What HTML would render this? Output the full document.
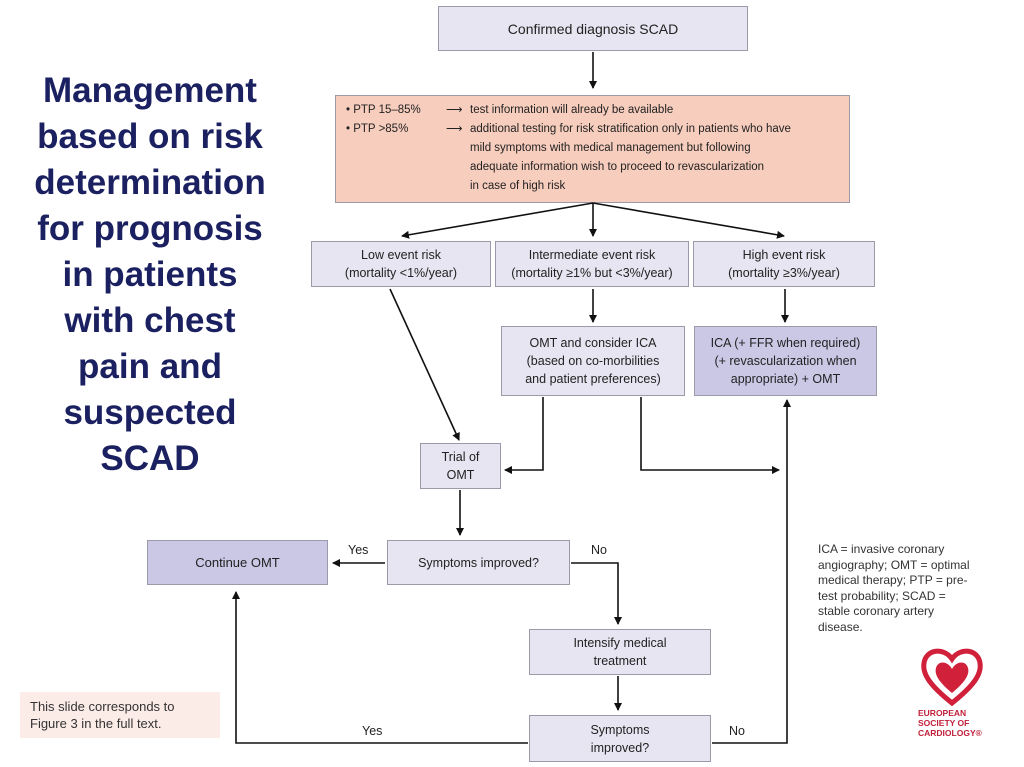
<!DOCTYPE html>
<html><head><meta charset="utf-8"><style>
body{margin:0;width:1024px;height:767px;background:#fff;position:relative;overflow:hidden;font-family:"Liberation Sans",sans-serif}
.b{position:absolute;box-sizing:border-box;border:1.5px solid #9a9aa8;background:#e6e5f1;display:flex;align-items:center;justify-content:center;text-align:center;font-size:12.5px;color:#222;line-height:18px}
.d{background:#cbc8e6}
.t{position:absolute;font-size:12.5px;color:#222}
</style></head><body>
<div style="position:absolute;left:0px;top:68px;width:300px;text-align:center;font-weight:bold;font-size:35px;line-height:46px;color:#1b2060">Management<br>based on risk<br>determination<br>for prognosis<br>in patients<br>with chest<br>pain and<br>suspected<br>SCAD</div>

<div class="b" style="left:438px;top:6px;width:310px;height:45px;font-size:14px">Confirmed diagnosis SCAD</div>
<div class="b" style="left:335px;top:95px;width:515px;height:108px;background:#f7cdbd;display:block;text-align:left;padding:5px 0 0 10px;font-size:11.5px;line-height:19px">
<div>• PTP 15–85% <span style="position:absolute;left:110px">⟶</span><span style="position:absolute;left:134px">test information will already be available</span></div>
<div>• PTP &gt;85% <span style="position:absolute;left:110px">⟶</span><span style="position:absolute;left:134px;white-space:nowrap">additional testing for risk stratification only in patients who have<br>mild symptoms with medical management but following<br>adequate information wish to proceed to revascularization<br>in case of high risk</span></div>
</div>
<div class="b" style="left:311px;top:241px;width:180px;height:46px">Low event risk<br>(mortality &lt;1%/year)</div>
<div class="b" style="left:495px;top:241px;width:194px;height:46px">Intermediate event risk<br>(mortality ≥1% but &lt;3%/year)</div>
<div class="b" style="left:693px;top:241px;width:182px;height:46px">High event risk<br>(mortality ≥3%/year)</div>
<div class="b" style="left:501px;top:326px;width:184px;height:70px">OMT and consider ICA<br>(based on co-morbilities<br>and patient preferences)</div>
<div class="b d" style="left:694px;top:326px;width:183px;height:70px">ICA (+ FFR when required)<br>(+ revascularization when<br>appropriate) + OMT</div>
<div class="b" style="left:420px;top:443px;width:81px;height:46px">Trial of<br>OMT</div>
<div class="b d" style="left:147px;top:540px;width:181px;height:45px;font-size:13px">Continue OMT</div>
<div class="b" style="left:387px;top:540px;width:183px;height:45px">Symptoms improved?</div>
<div class="b" style="left:529px;top:629px;width:182px;height:46px">Intensify medical<br>treatment</div>
<div class="b" style="left:529px;top:715px;width:182px;height:47px">Symptoms<br>improved?</div>
<div style="position:absolute;left:20px;top:692px;width:200px;height:46px;background:#fbece7;font-size:13px;color:#333;padding:6px 10px;box-sizing:border-box;line-height:17px">This slide corresponds to Figure 3 in the full text.</div>
<div style="position:absolute;left:818px;top:542px;width:160px;font-size:12px;line-height:15.5px;color:#333">ICA = invasive coronary angiography; OMT = optimal medical therapy; PTP = pre-test probability; SCAD = stable coronary artery disease.</div>
<div class="t" style="left:348px;top:543px">Yes</div>
<div class="t" style="left:591px;top:543px">No</div>
<div class="t" style="left:362px;top:724px">Yes</div>
<div class="t" style="left:729px;top:724px">No</div>
<svg width="1024" height="767" style="position:absolute;left:0;top:0">
<defs><marker id="a" markerWidth="8" markerHeight="8" refX="7" refY="4" orient="auto" markerUnits="userSpaceOnUse"><path d="M0,0L8,4L0,8z" fill="#111"/></marker></defs>
<g stroke="#111" stroke-width="1.6" fill="none">
<path d="M593,52V88" marker-end="url(#a)"/>
<path d="M593,203V236" marker-end="url(#a)"/>
<path d="M593,203L402,236" marker-end="url(#a)"/>
<path d="M593,203L784,236" marker-end="url(#a)"/>
<path d="M390,289L459,440" marker-end="url(#a)"/>
<path d="M593,289V322" marker-end="url(#a)"/>
<path d="M785,289V322" marker-end="url(#a)"/>
<path d="M543,397V470H505" marker-end="url(#a)"/>
<path d="M641,397V470H779" marker-end="url(#a)"/>
<path d="M460,490V535" marker-end="url(#a)"/>
<path d="M385,563H333" marker-end="url(#a)"/>
<path d="M571,563H618V624" marker-end="url(#a)"/>
<path d="M618,676V710" marker-end="url(#a)"/>
<path d="M528,743H236V592" marker-end="url(#a)"/>
<path d="M712,743H787V400" marker-end="url(#a)"/>
</g>
<g transform="translate(952,675)">
<path d="M0,28C-20,12 -30,0 -28,-12C-26,-26 -8,-28 0,-16C8,-28 26,-26 28,-12C30,0 20,12 0,28Z" fill="none" stroke="#d0203a" stroke-width="5"/>
<path d="M0,18C-12,8 -18,0 -16,-7C-14,-15 -4,-14 0,-6C4,-14 14,-15 16,-7C18,0 12,8 0,18Z" fill="#d0203a"/>
</g>
<g fill="#c0203a" font-family="Liberation Sans,sans-serif" font-weight="bold" font-size="8.5">
<text x="918" y="716">EUROPEAN</text><text x="918" y="726">SOCIETY OF</text><text x="918" y="736">CARDIOLOGY®</text>
</g>
</svg>
</body></html>
